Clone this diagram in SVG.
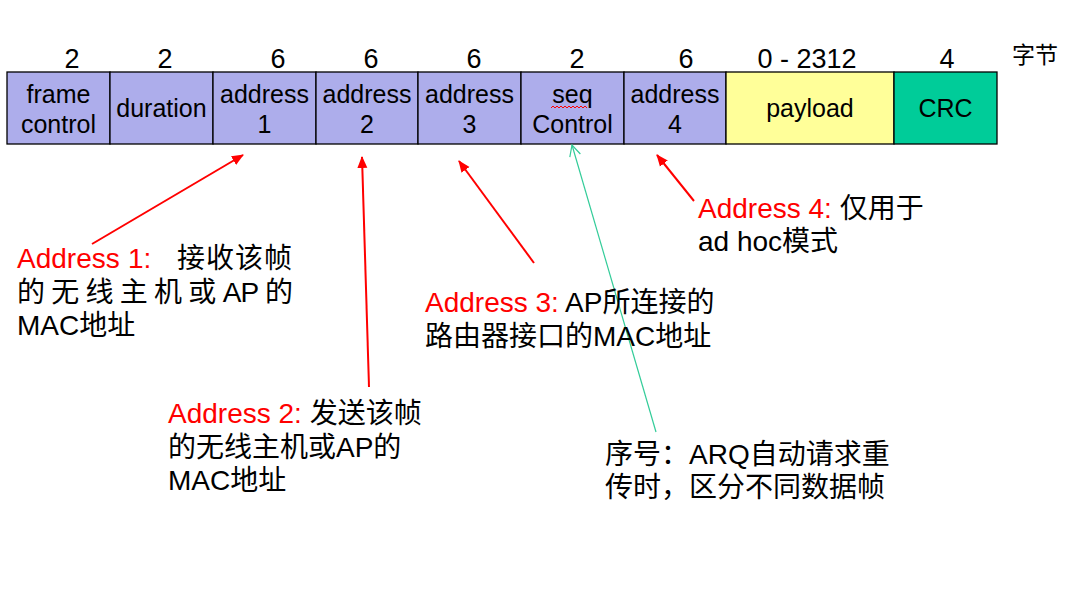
<svg xmlns="http://www.w3.org/2000/svg" width="1072" height="600" viewBox="0 0 1072 600">
<style>
text{font-family:"Liberation Sans","Noto Sans CJK SC",sans-serif;fill:#000}
.num{font-size:27px;text-anchor:middle}
.cell{stroke:#000;stroke-width:1.3}
.lav{fill:#ADADEB}
.yel{fill:#FFFF99}
.grn{fill:#00CC99}
.ct{font-size:25px;text-anchor:middle}
.ann{font-size:28px}
.red{fill:#FF0000}
.ra{stroke:#FF0000;stroke-width:2;fill:none}
.ga{stroke:#33CC99;stroke-width:1.2;fill:none}
</style>
<defs>
<marker id="rh" markerUnits="userSpaceOnUse" markerWidth="12" markerHeight="12" viewBox="0 0 12 12" refX="11" refY="6" orient="auto"><path d="M0,1 L12,6 L0,11 Z" fill="#FF0000"/></marker>
<marker id="gh" markerUnits="userSpaceOnUse" markerWidth="14" markerHeight="14" viewBox="0 0 14 14" refX="12" refY="7" orient="auto"><path d="M1,1.5 L12,7 L1,12.5" fill="none" stroke="#33CC99" stroke-width="1.2"/></marker>
</defs>
<rect width="1072" height="600" fill="#fff"/>
<g id="sizes">
<text class="num" x="72" y="68">2</text>
<text class="num" x="165" y="68">2</text>
<text class="num" x="278" y="68">6</text>
<text class="num" x="371" y="68">6</text>
<text class="num" x="474" y="68">6</text>
<text class="num" x="577" y="68">2</text>
<text class="num" x="686" y="68">6</text>
<text class="num" x="807" y="68">0 - 2312</text>
<text class="num" x="947" y="68">4</text>
<text x="1012" y="63" font-size="23" fill="#222">字节</text>
</g>
<g id="field-frame-control"><rect class="cell lav" x="7" y="72" width="103" height="72"/><text class="ct" x="58.5" y="103">frame</text><text class="ct" x="58.5" y="133">control</text></g>
<g id="field-duration"><rect class="cell lav" x="110" y="72" width="103" height="72"/><text class="ct" x="161.5" y="117">duration</text></g>
<g id="field-address1"><rect class="cell lav" x="213" y="72" width="103" height="72"/><text class="ct" x="264.5" y="103">address</text><text class="ct" x="264.5" y="133">1</text></g>
<g id="field-address2"><rect class="cell lav" x="316" y="72" width="102" height="72"/><text class="ct" x="367" y="103">address</text><text class="ct" x="367" y="133">2</text></g>
<g id="field-address3"><rect class="cell lav" x="418" y="72" width="103" height="72"/><text class="ct" x="469.5" y="103">address</text><text class="ct" x="469.5" y="133">3</text></g>
<g id="field-seq"><rect class="cell lav" x="521" y="72" width="103" height="72"/><text class="ct" x="572.5" y="103">seq</text><path d="M551,108 l2,-2 l2,2 l2,-2 l2,2 l2,-2 l2,2 l2,-2 l2,2 l2,-2 l2,2 l2,-2 l2,2 l2,-2 l2,2 l2,-2 l2,2 l2,-2 l2,2" fill="none" stroke="#FF0000" stroke-width="1"/><text class="ct" x="572.5" y="133">Control</text></g>
<g id="field-address4"><rect class="cell lav" x="624" y="72" width="102" height="72"/><text class="ct" x="675" y="103">address</text><text class="ct" x="675" y="133">4</text></g>
<g id="field-payload"><rect class="cell yel" x="726" y="72" width="168" height="72"/><text class="ct" x="810" y="117">payload</text></g>
<g id="field-crc"><rect class="cell grn" x="894" y="72" width="103" height="72"/><text class="ct" x="945.5" y="117">CRC</text></g>
<g id="connectors">
<line class="ra" x1="92" y1="244" x2="243" y2="155" marker-end="url(#rh)"/>
<line class="ra" x1="369" y1="387" x2="362" y2="157" marker-end="url(#rh)"/>
<line class="ra" x1="534" y1="263" x2="459" y2="161" marker-end="url(#rh)"/>
<line class="ra" x1="694" y1="201" x2="657" y2="155" marker-end="url(#rh)"/>
<line class="ga" x1="656" y1="432" x2="572" y2="145" marker-end="url(#gh)"/>
</g>
<g id="note-address1">
<text class="ann" x="17" y="268"><tspan class="red">Address</tspan><tspan class="red" x="128">1:</tspan><tspan x="177" letter-spacing="1">接收该帧</tspan></text>
<text class="ann" x="17" y="302" textLength="276" lengthAdjust="spacing">的 无 线 主 机 或 AP 的</text>
<text class="ann" x="17" y="335">MAC地址</text>
</g>
<g id="note-address2">
<text class="ann" x="168" y="423"><tspan class="red">Address 2:</tspan> 发送该帧</text>
<text class="ann" x="168" y="457">的无线主机或AP的</text>
<text class="ann" x="168" y="490">MAC地址</text>
</g>
<g id="note-address3">
<text class="ann" x="425" y="312"><tspan class="red">Address 3:</tspan> AP所连接的</text>
<text class="ann" x="425" y="346">路由器接口的MAC地址</text>
</g>
<g id="note-address4">
<text class="ann" x="698" y="218"><tspan class="red">Address 4:</tspan> 仅用于</text>
<text class="ann" x="698" y="251">ad hoc模式</text>
</g>
<g id="note-seq">
<text class="ann" x="605" y="464">序号：ARQ自动请求重</text>
<text class="ann" x="605" y="497">传时，区分不同数据帧</text>
</g>
</svg>
